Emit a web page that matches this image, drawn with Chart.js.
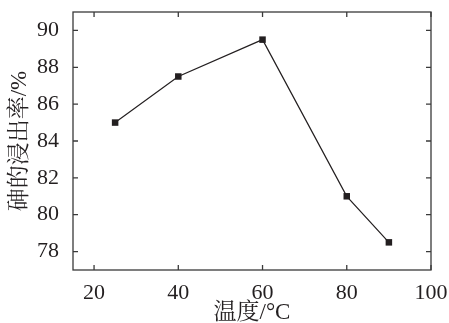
<!DOCTYPE html>
<html><head><meta charset="utf-8">
<script src="https://cdn.jsdelivr.net/npm/chart.js@4/dist/chart.umd.min.js"></script>
<style>html,body{margin:0;padding:0;background:#fff}#wrap{width:449px;height:323px}</style>
</head><body><div id="wrap"><canvas id="c"></canvas></div>
<script>
const temperatures = [25, 40, 60, 80, 90];
const leachRate = [85, 87.5, 89.5, 81, 78.5];
const xTicks = [20, 40, 60, 80, 100];
const yTicks = [78, 80, 82, 84, 86, 88, 90];
const xTitle = '温度/°C';
const yTitle = '砷的浸出率/%';

const INK = '#231f20';
const FONT = "'Liberation Serif', 'Noto Serif CJK SC', serif";

const framePlugin = {
  id: 'frame',
  afterDraw(chart) {
    const {ctx, chartArea: a, scales: {x, y}} = chart;
    ctx.save();
    ctx.strokeStyle = '#3a3a3a';
    ctx.lineWidth = 1.3;
    ctx.strokeRect(a.left, a.top, a.right - a.left, a.bottom - a.top);
    const L = 5;
    ctx.beginPath();
    xTicks.forEach(v => {
      const px = x.getPixelForValue(v);
      ctx.moveTo(px, a.bottom); ctx.lineTo(px, a.bottom - L);
      ctx.moveTo(px, a.top); ctx.lineTo(px, a.top + L);
    });
    yTicks.forEach(v => {
      const py = y.getPixelForValue(v);
      ctx.moveTo(a.left, py); ctx.lineTo(a.left + L, py);
      ctx.moveTo(a.right, py); ctx.lineTo(a.right - L, py);
    });
    ctx.stroke();
    ctx.restore();
  }
};

function draw() {
  new Chart(document.getElementById('c'), {
    type: 'scatter',
    data: {
      datasets: [{
        data: temperatures.map((t, i) => ({x: t, y: leachRate[i]})),
        showLine: true,
        borderColor: INK,
        borderWidth: 1.2,
        backgroundColor: INK,
        pointStyle: 'rect',
        pointRadius: 4.6,
        pointHoverRadius: 4.6,
        pointBorderWidth: 0
      }]
    },
    plugins: [framePlugin],
    options: {
      responsive: true,
      maintainAspectRatio: false,
      animation: false,
      events: [],
      layout: {padding: {top: 12, right: 18, left: 0, bottom: 0}},
      plugins: {legend: {display: false}, tooltip: {enabled: false}},
      scales: {
        x: {
          type: 'linear', min: 15, max: 100,
          afterBuildTicks: s => { s.ticks = xTicks.map(v => ({value: v})); },
          afterFit: s => { s.height = 53; s.paddingLeft = 0; s.paddingRight = 0; },
          grid: {display: false},
          border: {display: false},
          ticks: {color: INK, font: {family: FONT, size: 22}, padding: 2, maxRotation: 0, autoSkip: false},
          title: {display: true, text: xTitle, color: INK, font: {family: FONT, size: 23, lineHeight: 0.9}, padding: {top: 0, bottom: 0}}
        },
        y: {
          type: 'linear', min: 77, max: 91,
          afterBuildTicks: s => { s.ticks = yTicks.map(v => ({value: v})); },
          afterFit: s => { s.width = 73; s.paddingTop = 0; s.paddingBottom = 0; },
          grid: {display: false},
          border: {display: false},
          ticks: {color: INK, font: {family: FONT, size: 22}, padding: 6, autoSkip: false},
          title: {display: true, text: yTitle, color: INK, font: {family: FONT, size: 23, lineHeight: 1.1}, padding: {top: 7, bottom: 0}}
        }
      }
    }
  });
}

Promise.all([
  document.fonts.load('22px "Liberation Serif"'),
  document.fonts.load('23px "Noto Serif CJK SC"', '温度砷的浸出率')
]).then(draw, draw);
</script></body></html>
